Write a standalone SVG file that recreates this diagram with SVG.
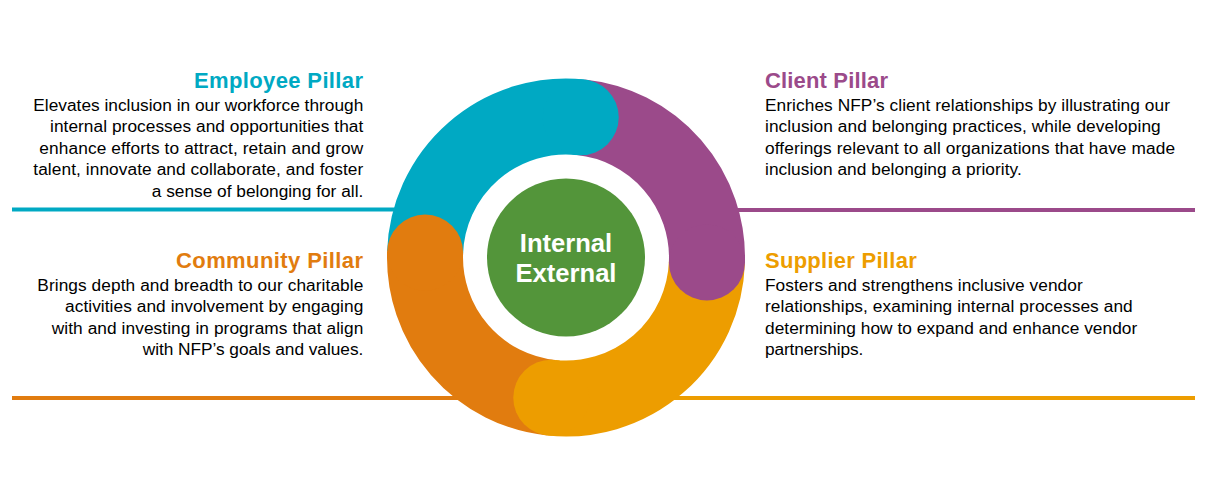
<svg xmlns="http://www.w3.org/2000/svg" width="1214" height="484" viewBox="0 0 1214 484">
<style>
.h{font-family:"Liberation Sans",Arial,sans-serif;font-weight:bold;font-size:22px}
.b{font-family:"Liberation Sans",Arial,sans-serif;font-size:17.3px;fill:#000}
.c{font-family:"Liberation Sans",Arial,sans-serif;font-weight:bold;font-size:25.6px;fill:#fff;text-anchor:middle}
.band{fill:none;stroke-width:76;stroke-linecap:butt}
</style>
<rect width="1214" height="484" fill="#fff"/>
<g id="connectors">
<line x1="12" y1="209.5" x2="420" y2="209.5" stroke="#00A9C3" stroke-width="4"/>
<line x1="720" y1="210" x2="1195" y2="210" stroke="#9B4A8A" stroke-width="4"/>
<line x1="12" y1="398" x2="520" y2="398" stroke="#E17C0F" stroke-width="4"/>
<line x1="610" y1="398" x2="1195" y2="398" stroke="#ED9D00" stroke-width="4"/>
</g>
<g id="ring">
<path class="band" stroke="#00A9C3" d="M425.09 252.58 A141 141 0 0 1 580.74 117.27"/>
<path class="band" stroke="#E17C0F" d="M551.26 397.73 A141 141 0 0 1 425.09 252.58"/>
<circle cx="425.09" cy="252.58" r="38" fill="#E17C0F"/>
<path class="band" stroke="#ED9D00" d="M706.91 262.42 A141 141 0 0 1 551.26 397.73"/>
<circle cx="551.26" cy="397.73" r="38" fill="#ED9D00"/>
<path class="band" stroke="#9B4A8A" d="M580.74 117.27 A141 141 0 0 1 706.91 262.42"/>
<circle cx="706.91" cy="262.42" r="38" fill="#9B4A8A"/>
<circle cx="580.74" cy="117.27" r="38" fill="#00A9C3"/>
</g>
<g id="center">
<circle cx="566" cy="257.5" r="79" fill="#53953A"/>
<text class="c" x="566" y="251.7">Internal</text>
<text class="c" x="566" y="281.7">External</text>
</g>
<g id="employee" text-anchor="end">
<text class="h" fill="#00A9C3" x="363" y="88" textLength="169" lengthAdjust="spacing">Employee Pillar</text>
<text class="b" x="363.3" y="110.7" textLength="330" lengthAdjust="spacing">Elevates inclusion in our workforce through</text>
<text class="b" x="363.3" y="132.2" textLength="313.3" lengthAdjust="spacing">internal processes and opportunities that</text>
<text class="b" x="363.3" y="153.7" textLength="324" lengthAdjust="spacing">enhance efforts to attract, retain and grow</text>
<text class="b" x="363.3" y="175.2" textLength="330" lengthAdjust="spacing">talent, innovate and collaborate, and foster</text>
<text class="b" x="363.3" y="196.7" textLength="211.6" lengthAdjust="spacing">a sense of belonging for all.</text>
</g>
<g id="client">
<text class="h" fill="#9B4A8A" x="765" y="88" textLength="123" lengthAdjust="spacing">Client Pillar</text>
<text class="b" x="765" y="110.7" textLength="405" lengthAdjust="spacing">Enriches NFP’s client relationships by illustrating our</text>
<text class="b" x="765" y="132.2" textLength="395.7" lengthAdjust="spacing">inclusion and belonging practices, while developing</text>
<text class="b" x="765" y="153.7" textLength="410" lengthAdjust="spacing">offerings relevant to all organizations that have made</text>
<text class="b" x="765" y="175.2" textLength="256.7" lengthAdjust="spacing">inclusion and belonging a priority.</text>
</g>
<g id="community" text-anchor="end">
<text class="h" fill="#E17C0F" x="363" y="268.3" textLength="187" lengthAdjust="spacing">Community Pillar</text>
<text class="b" x="363.3" y="290.7" textLength="326" lengthAdjust="spacing">Brings depth and breadth to our charitable</text>
<text class="b" x="363.3" y="312.2" textLength="298.3" lengthAdjust="spacing">activities and involvement by engaging</text>
<text class="b" x="363.3" y="333.7" textLength="311.6" lengthAdjust="spacing">with and investing in programs that align</text>
<text class="b" x="363.3" y="355.2" textLength="220.6" lengthAdjust="spacing">with NFP’s goals and values.</text>
</g>
<g id="supplier">
<text class="h" fill="#ED9D00" x="765" y="268.3" textLength="151.7" lengthAdjust="spacing">Supplier Pillar</text>
<text class="b" x="765" y="290.7" textLength="317.7" lengthAdjust="spacing">Fosters and strengthens inclusive vendor</text>
<text class="b" x="765" y="312.2" textLength="367.7" lengthAdjust="spacing">relationships, examining internal processes and</text>
<text class="b" x="765" y="333.7" textLength="372.3" lengthAdjust="spacing">determining how to expand and enhance vendor</text>
<text class="b" x="765" y="355.2" textLength="98.3" lengthAdjust="spacing">partnerships.</text>
</g>
</svg>
